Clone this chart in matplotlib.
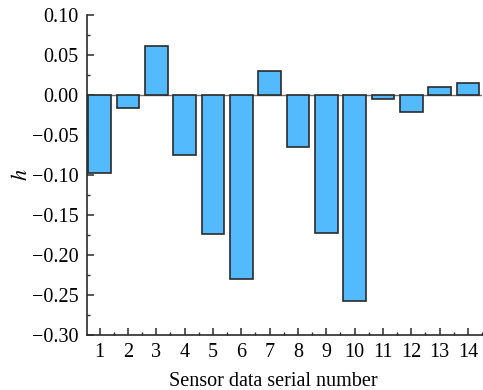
import matplotlib
matplotlib.use('Agg')
import matplotlib.pyplot as plt
from matplotlib.ticker import MultipleLocator

# Sensor serial numbers and their h values
sensors = list(range(1, 15))
h_values = [-0.098, -0.016, 0.061, -0.075, -0.174, -0.230, 0.030,
            -0.065, -0.172, -0.258, -0.005, -0.021, 0.010, 0.015]
y_ticks = [0.10, 0.05, 0.00, -0.05, -0.10, -0.15, -0.20, -0.25, -0.30]

plt.rcParams['font.family'] = ['Liberation Serif', 'DejaVu Serif']
plt.rcParams['mathtext.fontset'] = 'stix'

fig = plt.figure(figsize=(4.83, 3.90), dpi=100)
ax = fig.add_axes([0.180, 0.141, 0.818, 0.821])

ax.bar(sensors, h_values, width=0.8, color='#52BAFD', edgecolor='#2b2b2b',
       linewidth=1.2, zorder=3)
ax.axhline(0, color='#707070', linewidth=1.0, zorder=2)

ax.set_xlim(0.55, 14.5)
ax.set_ylim(-0.30, 0.10)
ax.set_xticks(sensors)
ax.set_yticks(y_ticks)
ax.set_yticklabels(['%.2f' % v if v >= 0 else '\u2212%.2f' % abs(v) for v in y_ticks])
ax.xaxis.set_minor_locator(MultipleLocator(0.5))
ax.yaxis.set_minor_locator(MultipleLocator(0.025))

ax.spines['top'].set_visible(False)
ax.spines['right'].set_visible(False)
for s in ['left', 'bottom']:
    ax.spines[s].set_linewidth(1.2)
    ax.spines[s].set_color('#2b2b2b')

ax.tick_params(which='major', direction='in', length=5, width=1.1,
               labelsize=14.5, colors='#2b2b2b', labelcolor='black', pad=6)
ax.tick_params(which='minor', direction='in', length=2.5, width=1.0,
               colors='#2b2b2b')

ax.set_xlabel('Sensor data serial number', fontsize=14.5)
ax.xaxis.set_label_coords(0.472, -0.115)
ax.set_ylabel('$h$', fontsize=16, labelpad=0)

fig.savefig('out.png', dpi=100)
